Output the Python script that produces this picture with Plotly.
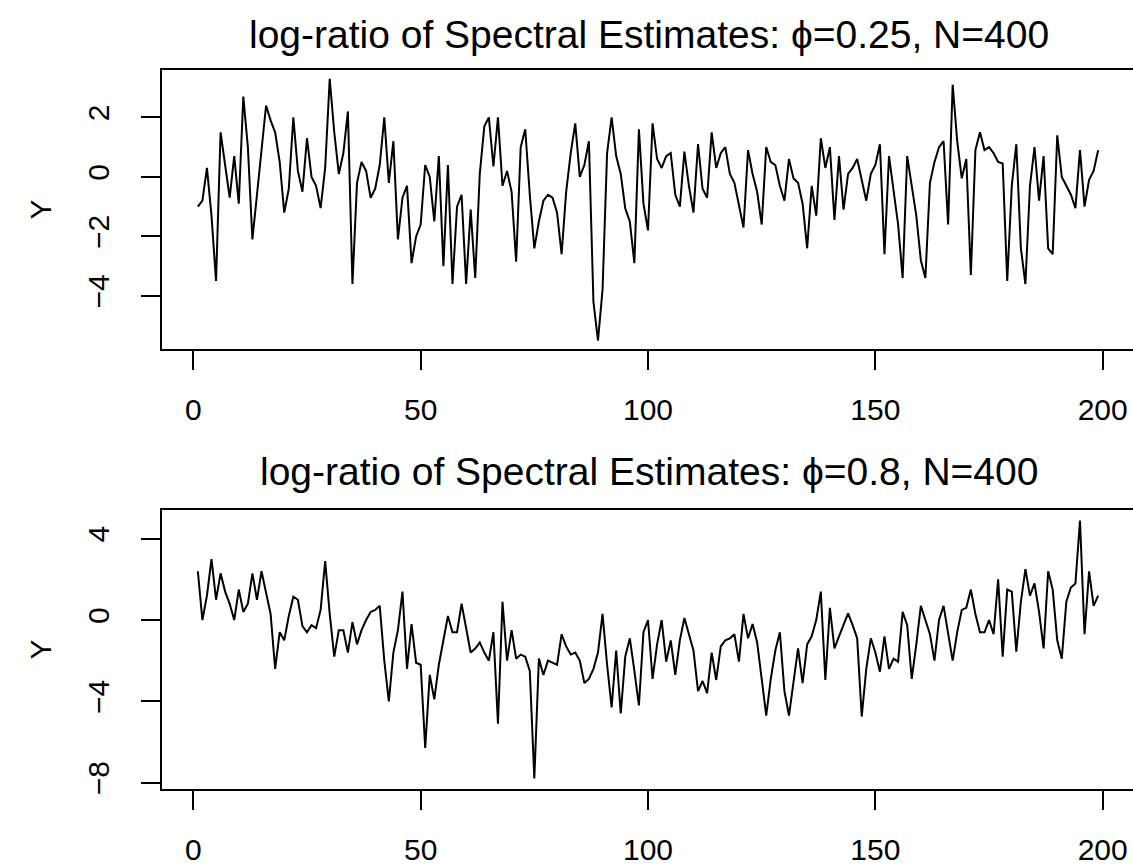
import plotly.graph_objects as go

W, H = 1133, 868

idx = list(range(1, 200))

y_phi025 = [
    -1.0, -0.8, 0.3, -1.3, -3.5, 1.5, 0.4, -0.7, 0.7, -0.9,
    2.7, 1.0, -2.1, -0.6, 1.0, 2.4, 1.9, 1.5, 0.5, -1.2,
    -0.4, 2.0, 0.2, -0.5, 1.3, 0.0, -0.3, -1.05, 0.3, 3.3,
    1.5, 0.1, 0.8, 2.2, -3.6, -0.2, 0.5, 0.2, -0.7, -0.4,
    0.4, 2.0, -0.2, 1.2, -2.1, -0.7, -0.3, -2.9, -2.0, -1.6,
    0.4, 0.0, -1.5, 0.7, -3.0, 0.4, -3.6, -1.0, -0.6, -3.6,
    -1.1, -3.4, 0.1, 1.7, 2.0, 0.35, 2.0, -0.3, 0.2, -0.5,
    -2.85, 1.0, 1.6, -0.6, -2.4, -1.5, -0.8, -0.6, -0.7, -1.2,
    -2.6, -0.5, 0.8, 1.8, 0.0, 0.4, 1.2, -4.2, -5.5, -3.8,
    0.8, 2.0, 0.7, 0.1, -1.06, -1.5, -2.9, 1.6, -0.9, -1.8,
    1.8, 0.6, 0.3, 0.7, 0.8, -0.6, -1.0, 0.85, -0.3, -1.2,
    1.1, -0.4, -0.7, 1.5, 0.3, 0.8, 1.0, 0.1, -0.2, -0.9,
    -1.7, 0.9, 0.1, -0.5, -1.6, 1.0, 0.5, 0.4, -0.3, -0.8,
    0.6, -0.05, -0.2, -0.9, -2.4, -0.3, -1.3, 1.3, 0.3, 1.0,
    -1.45, 0.7, -1.1, 0.1, 0.3, 0.6, -0.1, -0.8, 0.1, 0.4,
    1.1, -2.6, 0.7, -0.5, -1.6, -3.4, 0.7, -0.3, -1.3, -2.8,
    -3.4, -0.2, 0.5, 1.0, 1.2, -1.6, 3.1, 1.2, -0.05, 0.6,
    -3.3, 0.9, 1.5, 0.9, 1.0, 0.8, 0.5, 0.45, -3.5, -0.3,
    1.1, -2.4, -3.6, -0.3, 1.0, -0.8, 0.7, -2.4, -2.6, 1.4,
    0.0, -0.3, -0.6, -1.05, 0.9, -1.0, -0.1, 0.2, 0.9,
]

y_phi08 = [
    2.4, 0.0, 1.2, 3.0, 1.0, 2.3, 1.4, 0.8, 0.0, 1.5,
    0.4, 0.8, 2.3, 1.0, 2.4, 1.4, 0.3, -2.4, -0.6, -1.0,
    0.2, 1.15, 1.0, -0.3, -0.6, -0.25, -0.4, 0.5, 2.9, 0.3,
    -1.8, -0.5, -0.5, -1.6, -0.1, -1.2, -0.5, 0.0, 0.4, 0.5,
    0.7, -2.0, -4.0, -1.6, -0.5, 1.4, -2.4, -0.2, -2.1, -2.2,
    -6.3, -2.7, -3.9, -2.2, -0.9, 0.2, -0.6, -0.6, 0.8, -0.4,
    -1.6, -1.4, -1.1, -1.6, -2.0, -0.6, -5.1, 0.9, -2.0, -0.5,
    -1.9, -1.7, -1.8, -2.5, -7.8, -1.9, -2.7, -2.0, -2.1, -2.2,
    -0.7, -1.3, -1.7, -1.6, -2.0, -3.1, -2.9, -2.4, -1.6, 0.3,
    -2.2, -4.3, -1.5, -4.6, -1.8, -0.9, -2.5, -4.2, -0.6, 0.0,
    -2.9, -1.2, 0.0, -2.05, -1.0, -2.7, -1.0, 0.1, -0.7, -1.5,
    -3.5, -3.0, -3.6, -1.6, -2.95, -1.3, -1.0, -0.9, -0.7, -2.05,
    0.3, -0.9, -0.2, -1.1, -2.9, -4.7, -2.9, -1.5, -0.6, -3.5,
    -4.7, -2.9, -1.4, -3.1, -1.2, -0.8, 0.0, 1.4, -2.95, 0.6,
    -1.4, -0.8, -0.25, 0.33, -0.25, -0.9, -4.75, -2.4, -0.9, -1.6,
    -2.54, -0.8, -2.4, -1.9, -2.05, 0.4, -0.25, -2.9, -1.2, 0.7,
    0.0, -0.7, -2.0, 0.0, 0.7, -0.7, -2.0, -0.6, 0.5, 0.6,
    1.5, 0.3, -0.6, -0.6, 0.0, -0.7, 2.0, -1.8, 1.5, 1.4,
    -1.56, 0.9, 2.5, 1.2, 1.8, 0.4, -1.4, 2.4, 1.5, -1.0,
    -1.9, 0.9, 1.6, 1.8, 4.9, -0.7, 2.4, 0.7, 1.2,
]

titles = ["log-ratio of Spectral Estimates: \u03d5=0.25, N=400",
          "log-ratio of Spectral Estimates: \u03d5=0.8, N=400"]
x_ticks = [0, 50, 100, 150, 200]
y_ticks_top = [-4, -2, 0, 2]
y_ticks_bot = [-8, -4, 0, 4]


def px_x(p):
    return p / W


def px_y(p):
    return 1 - p / H


FONT = "Liberation Sans, Arial, sans-serif"

fig = go.Figure()
fig.add_trace(go.Scatter(x=idx, y=y_phi025, mode="lines",
                         line=dict(color="black", width=2),
                         xaxis="x", yaxis="y", showlegend=False))
fig.add_trace(go.Scatter(x=idx, y=y_phi08, mode="lines",
                         line=dict(color="black", width=2),
                         xaxis="x2", yaxis="y2", showlegend=False))

axis_common = dict(showline=True, mirror=True, linecolor="black", linewidth=2,
                   ticks="outside", ticklen=19, tickwidth=2, tickcolor="black",
                   showgrid=False, zeroline=False, automargin=False,
                   tickfont=dict(family=FONT, size=30, color="black"))

xdom = [px_x(161.7), 1.0]
xrange = [-6.95, 206.66]

fig.update_layout(
    width=W, height=H, template="none",
    margin=dict(l=0, r=0, t=0, b=0),
    paper_bgcolor="white", plot_bgcolor="white",
    xaxis=dict(domain=xdom, range=xrange, tickvals=x_ticks, anchor="y",
               ticklabelstandoff=14, **axis_common),
    yaxis=dict(domain=[px_y(349.3), px_y(69.7)], range=[-5.795, 3.603],
               tickvals=y_ticks_top, anchor="x", tickangle=-90,
               ticklabelstandoff=20, **axis_common),
    xaxis2=dict(domain=xdom, range=xrange, tickvals=x_ticks, anchor="y2",
                ticklabelstandoff=14, **axis_common),
    yaxis2=dict(domain=[px_y(789.3), px_y(509.7)], range=[-8.33, 5.43],
                tickvals=y_ticks_bot, anchor="x2", tickangle=-90,
                ticklabelstandoff=20, **axis_common),
)

annos = []
for t, yc in zip(titles, [35, 471]):
    annos.append(dict(text=t, x=px_x(648.7), y=px_y(yc), xref="paper", yref="paper",
                      xanchor="center", yanchor="middle", showarrow=False,
                      font=dict(family=FONT, size=39, color="black")))
for yc in [209.5, 649.5]:
    annos.append(dict(text="Y", x=px_x(40), y=px_y(yc), xref="paper", yref="paper",
                      xanchor="center", yanchor="middle", showarrow=False, textangle=-90,
                      font=dict(family=FONT, size=30, color="black")))
fig.update_layout(annotations=annos)

fig.write_html("out.html")
